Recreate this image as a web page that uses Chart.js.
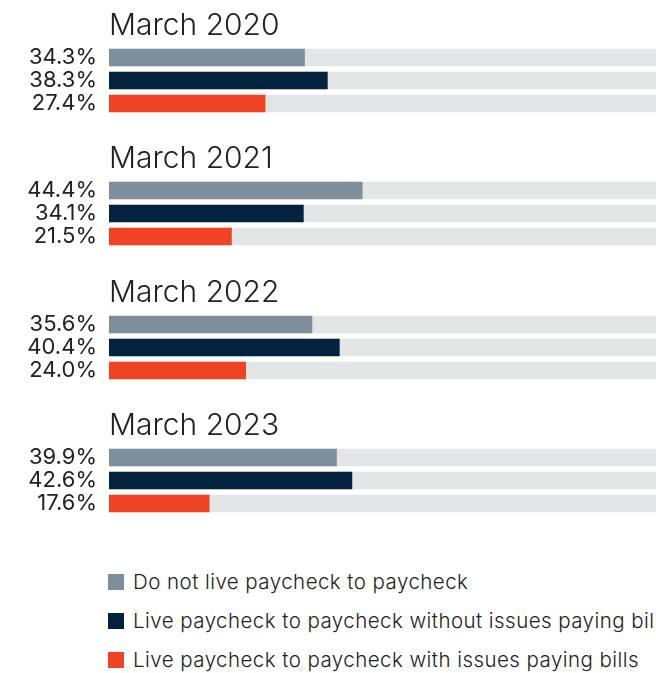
<!DOCTYPE html>
<html>
<head>
<meta charset="utf-8">
<script src="https://cdn.jsdelivr.net/npm/chart.js@4.4.1/dist/chart.umd.min.js"></script>
<style>
  html, body { margin: 0; padding: 0; background: #fff; width: 656px; height: 673px; overflow: hidden; }
  .grp { position: absolute; left: 0; width: 656px; height: 133px; }
  #legend { position: absolute; left: 108px; top: 562px; font-family: 'Inter', sans-serif; font-size: 20.5px; letter-spacing: 0.45px; font-weight: 300; color: #222; white-space: nowrap; }
  .item { height: 39px; display: flex; align-items: center; }
  .sw { width: 16px; height: 16px; margin-right: 9px; flex: none; }
</style>
</head>
<body>
<div class="grp" style="top:0px"><canvas id="c0"></canvas></div>
<div class="grp" style="top:133px"><canvas id="c1"></canvas></div>
<div class="grp" style="top:267px"><canvas id="c2"></canvas></div>
<div class="grp" style="top:400px"><canvas id="c3"></canvas></div>
<div id="legend"></div>
<script>
const periods = ['March 2020', 'March 2021', 'March 2022', 'March 2023'];
const seriesNames = [
  'Do not live paycheck to paycheck',
  'Live paycheck to paycheck without issues paying bills',
  'Live paycheck to paycheck with issues paying bills'
];
const seriesColors = ['#7e8e9a', '#03223e', '#f04225'];
const trackColor = '#e4e5e7';
// share of respondents per period, in series order
const values2020 = [34.3, 38.3, 27.4];
const values2021 = [44.4, 34.1, 21.5];
const values2022 = [35.6, 40.4, 24.0];
const values2023 = [39.9, 42.6, 17.6];
const groupValues = [values2020, values2021, values2022, values2023];
const trackValues = [100, 100, 100];

const textColor = '#222';

periods.forEach((period, g) => {
  const vals = groupValues[g];
  const ctx = document.getElementById('c' + g).getContext('2d');
  new Chart(ctx, {
    type: 'bar',
    data: {
      labels: seriesNames,
      datasets: [
        {
          label: period,
          data: vals,
          backgroundColor: seriesColors,
          grouped: false,
          order: 0,
          categoryPercentage: 1,
          barPercentage: 0.77
        },
        {
          label: 'track',
          data: trackValues,
          backgroundColor: trackColor,
          grouped: false,
          order: 1,
          categoryPercentage: 1,
          barPercentage: 0.77
        }
      ]
    },
    options: {
      indexAxis: 'y',
      responsive: true,
      maintainAspectRatio: false,
      animation: false,
      layout: { padding: { top: 0, bottom: 18, left: 0, right: 0 } },
      plugins: {
        legend: { display: false },
        tooltip: { enabled: false },
        title: {
          display: true,
          text: period,
          align: 'start',
          fullSize: false,
          color: textColor,
          font: { family: 'Inter', size: 30, weight: 300, lineHeight: 1.2 },
          padding: { top: 8, bottom: 2 }
        }
      },
      scales: {
        x: {
          display: false,
          min: 0,
          max: 95.8
        },
        y: {
          grid: { display: false, drawTicks: false },
          border: { display: false },
          afterFit: (scale) => { scale.width = 109; },
          ticks: {
            autoSkip: false,
            padding: 12,
            color: textColor,
            font: { family: 'Inter', size: 22, weight: 400, lineHeight: 0.5 },
            callback: (v, i) => vals[i].toFixed(1) + '%'
          }
        }
      }
    }
  });
});

// legend
const legend = document.getElementById('legend');
seriesNames.forEach((name, i) => {
  const row = document.createElement('div');
  row.className = 'item';
  const sw = document.createElement('span');
  sw.className = 'sw';
  sw.style.background = seriesColors[i];
  const tx = document.createElement('span');
  tx.textContent = name;
  row.appendChild(sw);
  row.appendChild(tx);
  legend.appendChild(row);
});
</script>
</body>
</html>
